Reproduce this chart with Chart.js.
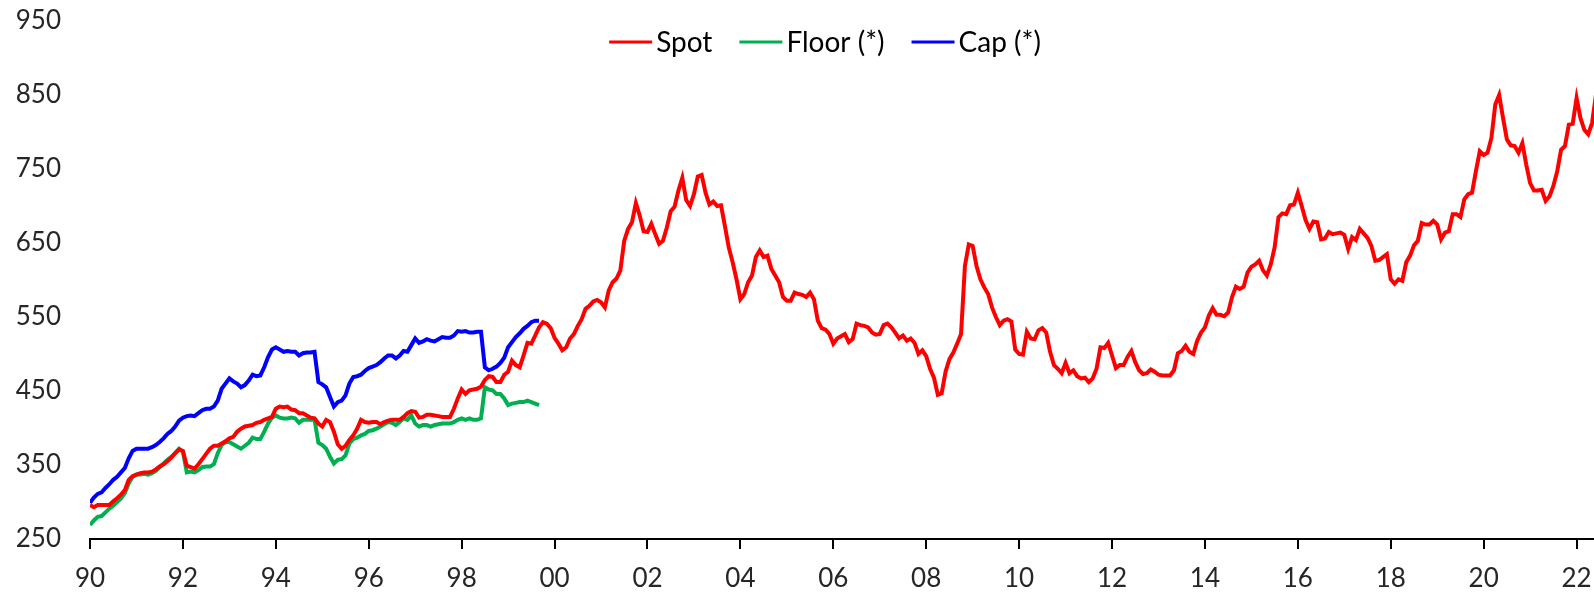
<!DOCTYPE html>
<html>
<head>
<meta charset="utf-8">
<script src="https://cdn.jsdelivr.net/npm/chart.js@4.4.1/dist/chart.umd.min.js"></script>
<style>
html,body{margin:0;padding:0;background:#fff;}
#wrap{width:1594px;height:595px;}
</style>
</head>
<body>
<div id="wrap"><canvas id="c" width="1594" height="595"></canvas></div>
<script>
// Monthly series starting Jan 1990 (index 0 = Jan 1990)
const tickLabels = ['90','92','94','96','98','00','02','04','06','08','10','12','14','16','18','20','22'];
const seriesNames = ['Spot','Floor (*)','Cap (*)'];

const spot = [
296,293,296,296,296,296,301,305,310,316,330,335,
337,339,340,340,341,344,348,351,355,360,366,371,
369,349,347,345,351,358,365,372,376,376,379,382,
386,388,395,399,402,403,404,407,408,411,413,415,
426,429,428,429,425,424,420,420,417,414,413,406,
402,411,408,395,378,372,376,384,390,399,411,408,
407,408,408,405,408,410,411,411,411,415,420,423,
422,414,415,418,418,417,416,415,415,415,426,440,
452,446,451,452,453,456,465,470,469,462,462,472,
476,491,485,482,498,515,514,525,536,543,541,535,
522,514,505,509,521,527,538,547,561,565,571,573,
570,563,586,597,602,613,653,669,678,704,687,666,
665,676,662,649,653,671,693,699,721,738,708,700,
716,740,742,718,702,706,700,701,673,644,624,601,
574,581,597,606,631,640,631,633,615,606,597,577,
572,572,583,581,580,577,583,574,545,535,533,527,
514,521,524,527,516,520,541,539,538,536,529,526,
527,539,541,536,529,521,525,518,521,515,500,505,
497,480,468,445,447,476,493,502,514,527,619,648,
646,619,601,590,581,563,550,539,545,547,544,506,
500,499,530,521,520,532,535,529,503,485,480,474,
488,474,478,470,467,468,462,467,480,509,508,515,
498,481,485,485,496,504,489,478,473,474,479,476,
472,471,471,471,478,501,504,511,503,500,518,529,
536,552,562,553,553,551,556,577,591,588,591,610,
618,621,626,613,606,621,644,685,690,689,701,702,
718,700,681,669,679,678,655,656,665,662,663,664,
661,642,658,654,669,663,657,646,626,627,631,635,
601,595,601,599,624,633,647,653,677,675,675,680,
675,655,664,666,689,689,685,709,716,718,747,774,
769,772,792,837,850,819,790,782,781,772,785,756,
731,721,721,722,707,713,727,747,776,781,810,811,
846,819,803,797,812,850
];

const floor = [
269,275,280,281,286,291,295,300,305,312,325,334,
337,337,338,337,339,342,347,352,357,361,366,372,
368,340,341,340,343,347,348,348,351,366,377,381,
381,378,375,372,376,380,387,385,385,395,406,414,
417,414,413,413,414,413,407,411,411,411,411,380,
377,372,361,352,357,358,363,379,385,387,390,392,
396,397,399,402,405,408,407,404,408,413,411,417,
406,402,404,404,402,404,405,406,406,406,408,411,
413,411,413,411,411,413,455,452,451,446,446,440,
431,433,434,435,435,437,435,433,431
];

const cap = [
299,306,311,313,319,324,330,334,340,346,359,369,
372,372,372,372,374,377,381,386,392,396,402,410,
414,416,417,416,420,424,426,426,429,437,453,460,
467,463,460,455,458,464,472,470,471,482,496,506,
509,506,503,504,503,503,498,501,502,502,503,462,
459,455,442,429,435,437,444,460,469,470,472,477,
481,483,485,489,494,498,498,494,498,504,503,512,
521,515,517,520,518,517,520,523,522,522,525,531,
530,531,529,529,530,530,482,478,480,483,488,495,
509,516,523,528,534,538,543,545,545
];

const toXY = arr => arr.map((v, i) => ({x: i, y: v}));

const FONT = 'Lato';

const legendPlugin = {
  id: 'customLegend',
  afterDraw(chart) {
    const ctx = chart.ctx;
    const ds = chart.data.datasets;
    ctx.save();
    ctx.font = '28px ' + FONT;
    ctx.textBaseline = 'middle';
    const lineLen = 43, gapText = 4, gapItem = 27;
    let total = 0;
    const widths = ds.map(d => ctx.measureText(d.label).width);
    widths.forEach((w, i) => { total += lineLen + gapText + w + (i < widths.length - 1 ? gapItem : 0); });
    let x = 825 - total / 2;
    const y = 42;
    ds.forEach((d, i) => {
      ctx.strokeStyle = d.borderColor;
      ctx.lineWidth = 3;
      ctx.lineCap = 'butt';
      ctx.beginPath();
      ctx.moveTo(x, y);
      ctx.lineTo(x + lineLen, y);
      ctx.stroke();
      ctx.fillStyle = '#000';
      ctx.fillText(d.label, x + lineLen + gapText, y + 1);
      x += lineLen + gapText + widths[i] + gapItem;
    });
    ctx.restore();
  }
};

const chart = new Chart(document.getElementById('c'), {
  type: 'line',
  data: {
    datasets: [
      {label: seriesNames[0], data: toXY(spot), borderColor: '#FF0000', backgroundColor: '#FF0000', borderWidth: 4, pointRadius: 0, tension: 0},
      {label: seriesNames[1], data: toXY(floor), borderColor: '#00B050', backgroundColor: '#00B050', borderWidth: 4, pointRadius: 0, tension: 0},
      {label: seriesNames[2], data: toXY(cap), borderColor: '#0000FF', backgroundColor: '#0000FF', borderWidth: 4, pointRadius: 0, tension: 0}
    ]
  },
  options: {
    responsive: false,
    animation: false,
    devicePixelRatio: 1,
    layout: {padding: {top: 21, right: 0, bottom: 0, left: 0}},
    plugins: {legend: {display: false}, tooltip: {enabled: false}},
    scales: {
      x: {
        type: 'linear',
        min: 0,
        max: 388.5,
        afterBuildTicks: s => { s.ticks = tickLabels.map((_, i) => ({value: i * 24})); },
        afterFit: s => { s.height = 56; s.paddingRight = 0; },
        ticks: {
          autoSkip: false,
          maxRotation: 0,
          padding: 14,
          color: '#262626',
          font: {family: FONT, size: 26},
          callback: v => tickLabels[Math.round(v / 24)]
        },
        grid: {display: true, drawOnChartArea: false, drawTicks: true, tickLength: 10, color: '#000', lineWidth: 2},
        border: {display: true, color: '#000', width: 2}
      },
      y: {
        min: 250,
        max: 950,
        afterFit: s => { s.width = 90; s.paddingTop = 15; s.paddingBottom = 0; },
        ticks: {
          stepSize: 100,
          padding: 29,
          color: '#262626',
          font: {family: FONT, size: 26}
        },
        grid: {display: false, drawTicks: false},
        border: {display: false}
      }
    }
  },
  plugins: [legendPlugin]
});
</script>
</body>
</html>
